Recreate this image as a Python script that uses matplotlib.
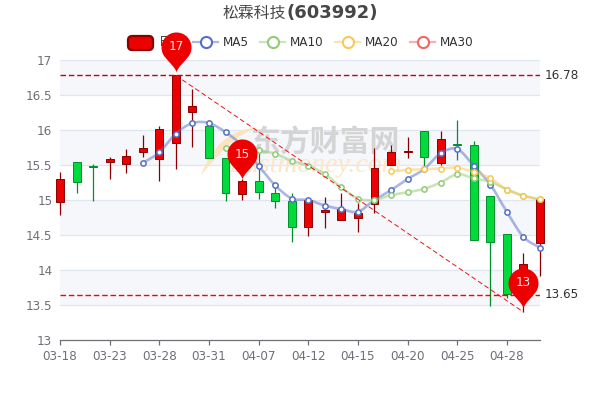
import matplotlib
matplotlib.use('Agg')
import matplotlib.pyplot as plt
import numpy as np
from matplotlib.path import Path
from matplotlib.patches import PathPatch, Rectangle, FancyBboxPatch
from matplotlib.lines import Line2D

plt.rcParams['font.family'] = ['DejaVu Sans', 'Noto Sans CJK SC']

# open, close, low, high
opens = [14.97, 15.54, 15.49, 15.55, 15.51, 15.69, 15.59, 15.81, 16.26, 16.06,
         15.60, 15.08, 15.27, 15.10, 14.99, 14.62, 14.83, 14.71, 14.74, 14.94,
         15.50, 15.69, 15.99, 15.53, 15.80, 15.78, 15.06, 14.52, 13.80, 14.39]
closes = [15.30, 15.26, 15.47, 15.59, 15.63, 15.74, 16.01, 16.78, 16.34, 15.60,
          15.10, 15.27, 15.12, 14.99, 14.62, 15.00, 14.86, 14.87, 14.81, 15.46,
          15.69, 15.70, 15.61, 15.87, 15.78, 14.43, 14.40, 13.66, 14.08, 15.02]
lows = [14.78, 15.10, 14.98, 15.30, 15.38, 15.62, 15.27, 15.45, 15.76, 15.60,
        14.99, 15.00, 15.01, 14.89, 14.40, 14.48, 14.60, 14.71, 14.55, 14.81,
        15.50, 15.60, 15.43, 15.50, 15.57, 14.43, 13.49, 13.60, 13.40, 13.91]
highs = [15.40, 15.54, 15.52, 15.62, 15.73, 15.93, 16.06, 16.78, 16.58, 16.15,
         15.60, 15.30, 15.70, 15.20, 15.10, 15.00, 15.04, 15.10, 14.96, 15.74,
         15.79, 15.90, 15.99, 15.99, 16.15, 15.84, 15.06, 14.52, 14.25, 15.02]

ma5 = [None] * 5 + [15.53, 15.68, 15.95, 16.10, 16.10, 15.97, 15.78, 15.49, 15.21, 15.02,
                    15.00, 14.92, 14.87, 14.83, 15.00, 15.14, 15.30, 15.44, 15.67, 15.73,
                    15.49, 15.22, 14.83, 14.47, 14.32]
ma10 = [None] * 10 + [15.75, 15.76, 15.71, 15.66, 15.56, 15.49, 15.37, 15.18, 15.02, 15.00,
                      15.07, 15.11, 15.16, 15.25, 15.37, 15.31, 15.26, 15.15, 15.06, 15.01]
ma20 = [None] * 20 + [15.41, 15.43, 15.44, 15.45, 15.46, 15.40, 15.31, 15.15, 15.06, 15.01]

tick_idx = [0, 3, 6, 9, 12, 15, 18, 21, 24, 27]
tick_labels = ['03-18', '03-23', '03-28', '03-31', '04-07', '04-12', '04-15', '04-20', '04-25', '04-28']
y_ticks = [13, 13.5, 14, 14.5, 15, 15.5, 16, 16.5, 17]
y_labels = ['13', '13.5', '14', '14.5', '15', '15.5', '16', '16.5', '17']

high_line = 16.78
low_line = 13.65
pins = [(7, 16.83, '17'), (11, 15.30, '15'), (28, 13.46, '13')]
trend = ([7, 28], [16.78, 13.40])

RED, RED_D = '#ec0000', '#8a0000'
GREEN, GREEN_D = '#00da3c', '#008f28'
MA_COLORS = {'MA5': '#5470c6', 'MA10': '#91cc75', 'MA20': '#fac858', 'MA30': '#ee6666'}
CJK = ['Noto Sans CJK SC', 'DejaVu Sans']

fig = plt.figure(figsize=(6, 4), dpi=100)
ax = fig.add_axes([60 / 600, 60 / 400, 480 / 600, 280 / 400])
ax.set_xlim(0, 29)
ax.set_ylim(13, 17)
# the pins sit over the legend, so the axes go on top of the figure artists
ax.set_zorder(5)
ax.patch.set_visible(False)


def px(x, y):
    # figure pixel (from top left) to figure fraction
    return x / 600, 1 - y / 400


# background bands and grid
for n, (lo, hi) in enumerate(zip(y_ticks[:-1], y_ticks[1:])):
    if n % 2 == 1:
        ax.axhspan(lo, hi, color='#f5f7fb', lw=0, zorder=0)
for v in y_ticks[1:]:
    ax.axhline(v, color='#e0e6f1', lw=0.9, zorder=1)

# watermark
logo = Path([px(201, 175), px(212, 145), px(232, 128), px(257, 128), px(240, 132), px(222, 150), px(201, 175)],
            [Path.MOVETO, Path.CURVE4, Path.CURVE4, Path.CURVE4, Path.CURVE4, Path.CURVE4, Path.CURVE4])
ax.add_patch(PathPatch(logo, transform=fig.transFigure, facecolor='#fde3c0', edgecolor='none', zorder=1.5,
                       clip_on=False))
ax.text(*px(325, 143), '东方财富网', transform=fig.transFigure, color='#d4d4d4', fontsize=21.5, ha='center',
        va='center', weight='bold', family=CJK, zorder=1.5)
ax.text(*px(315, 166), 'Eastmoney.com', transform=fig.transFigure, color='#fde6c8', fontsize=20, ha='center',
        va='center', style='italic', family='Liberation Serif', zorder=1.5)

# candles
for i, (o, c, l, h) in enumerate(zip(opens, closes, lows, highs)):
    up = c >= o
    face, edge = (RED, RED_D) if up else (GREEN, GREEN_D)
    ax.plot([i, i], [l, h], color=edge, lw=0.9, zorder=3, clip_on=False, solid_capstyle='butt')
    ax.add_patch(Rectangle((i - 0.24, min(o, c)), 0.48, abs(c - o), facecolor=face, edgecolor=edge,
                           lw=0.7, zorder=3, clip_on=False))


def smooth_path(xs, ys, k=0.3):
    # cubic bezier through the points, like a smooth line chart
    verts = [(xs[0], ys[0])]
    codes = [Path.MOVETO]
    n = len(xs)
    for i in range(n - 1):
        p0 = max(i - 1, 0)
        p3 = min(i + 2, n - 1)
        c1 = (xs[i] + (xs[i + 1] - xs[p0]) * k / 2, ys[i] + (ys[i + 1] - ys[p0]) * k / 2)
        c2 = (xs[i + 1] - (xs[p3] - xs[i]) * k / 2, ys[i + 1] - (ys[p3] - ys[i]) * k / 2)
        verts += [c1, c2, (xs[i + 1], ys[i + 1])]
        codes += [Path.CURVE4] * 3
    return Path(verts, codes)


for name, vals in [('MA5', ma5), ('MA10', ma10), ('MA20', ma20)]:
    xs = [i for i, v in enumerate(vals) if v is not None]
    ys = [v for v in vals if v is not None]
    col = MA_COLORS[name]
    ax.add_patch(PathPatch(smooth_path(xs, ys), fill=False, edgecolor=col, lw=1.9, alpha=0.5, zorder=4,
                           clip_on=False))
    ax.plot(xs, ys, ls='none', marker='o', ms=3.8, mfc='white', mec=col, mew=1.1, zorder=5, clip_on=False)

# mark lines
ax.axhline(high_line, color='#d00000', lw=1, ls=(0, (4, 2)), zorder=6)
ax.axhline(low_line, color='#ff0000', lw=1, ls=(0, (4, 2)), zorder=6)
ax.plot(*trend, color='#ee1010', lw=0.7, ls=(0, (5, 3)), zorder=6, clip_on=False)
ax.annotate('16.78', (1, high_line), xycoords=('axes fraction', 'data'), xytext=(5, 0),
            textcoords='offset pixels', color='#333333', fontsize=8.64, va='center')
ax.annotate('13.65', (1, low_line), xycoords=('axes fraction', 'data'), xytext=(5, 0),
            textcoords='offset pixels', color='#333333', fontsize=8.64, va='center')

# pins, tip at the origin of the marker
cy, r = 0.625, 0.375
arc = np.radians(np.linspace(215, -35, 40))
pin_verts = [(0, 0), (-0.02, 0.12), (-0.22, 0.29)]
pin_verts += [(r * np.cos(a), cy + r * np.sin(a)) for a in arc]
pin_verts += [(0.22, 0.29), (0.02, 0.12), (0, 0), (0, 0)]
pin_codes = [Path.MOVETO, Path.CURVE4, Path.CURVE4] + [Path.CURVE4] + [Path.LINETO] * 39
pin_codes += [Path.CURVE4] * 3 + [Path.CLOSEPOLY]
pin_path = Path(pin_verts, pin_codes)

for x, y, label in pins:
    ax.plot([x], [y], marker=pin_path, ms=57.6, mfc='#ec0000', mec='none', ls='none', zorder=8, clip_on=False)
    ax.annotate(label, (x, y), xytext=(0, 25), textcoords='offset pixels', color='#fbeaea',
                fontsize=8.64, ha='center', va='center', zorder=9, annotation_clip=False)

# axes
for s in ['top', 'left', 'right']:
    ax.spines[s].set_visible(False)
ax.spines['bottom'].set_color('#6e7079')
ax.spines['bottom'].set_linewidth(0.9)
ax.spines['bottom'].set_zorder(7)
ax.set_xticks(tick_idx)
ax.set_xticklabels(tick_labels)
ax.set_yticks(y_ticks)
ax.set_yticklabels(y_labels)
ax.tick_params(axis='x', length=3.6, width=0.9, color='#6e7079', labelcolor='#6e7079', labelsize=8.64, pad=3.5)
ax.tick_params(axis='y', length=0, labelcolor='#6e7079', labelsize=8.64, pad=5.5)

# title
fig.text(*px(285.5, 13), '松霖科技', color='#464646', fontsize=11.4, ha='right', va='center', family=CJK)
fig.text(*px(287, 13), '(603992)', color='#464646', fontsize=13, ha='left', va='center', weight='bold')

# legend
fig.add_artist(FancyBboxPatch(px(128, 50), 25 / 600, 14 / 400, boxstyle='round,pad=0,rounding_size=0.007',
                              transform=fig.transFigure, facecolor=RED, edgecolor=RED_D, lw=1.6, zorder=2,
                              mutation_aspect=1.5))
fig.text(*px(159, 42), '日K', color='#333333', fontsize=8.64, va='center', family=CJK, zorder=2)
for name, x0 in [('MA5', 193), ('MA10', 260), ('MA20', 335), ('MA30', 410)]:
    col = MA_COLORS[name]
    fig.add_artist(Line2D([x0 / 600, (x0 + 25) / 600], [1 - 42 / 400] * 2, color=col, lw=1.6, alpha=0.5,
                          transform=fig.transFigure, zorder=2))
    fig.add_artist(Line2D([(x0 + 12.5) / 600], [1 - 42 / 400], marker='o', ms=8, mfc='white', mec=col, mew=1.5,
                          transform=fig.transFigure, zorder=2))
    fig.text(*px(x0 + 30, 42), name, color='#333333', fontsize=8.64, va='center', zorder=2)

fig.savefig('out.png', dpi=100, facecolor='white')
